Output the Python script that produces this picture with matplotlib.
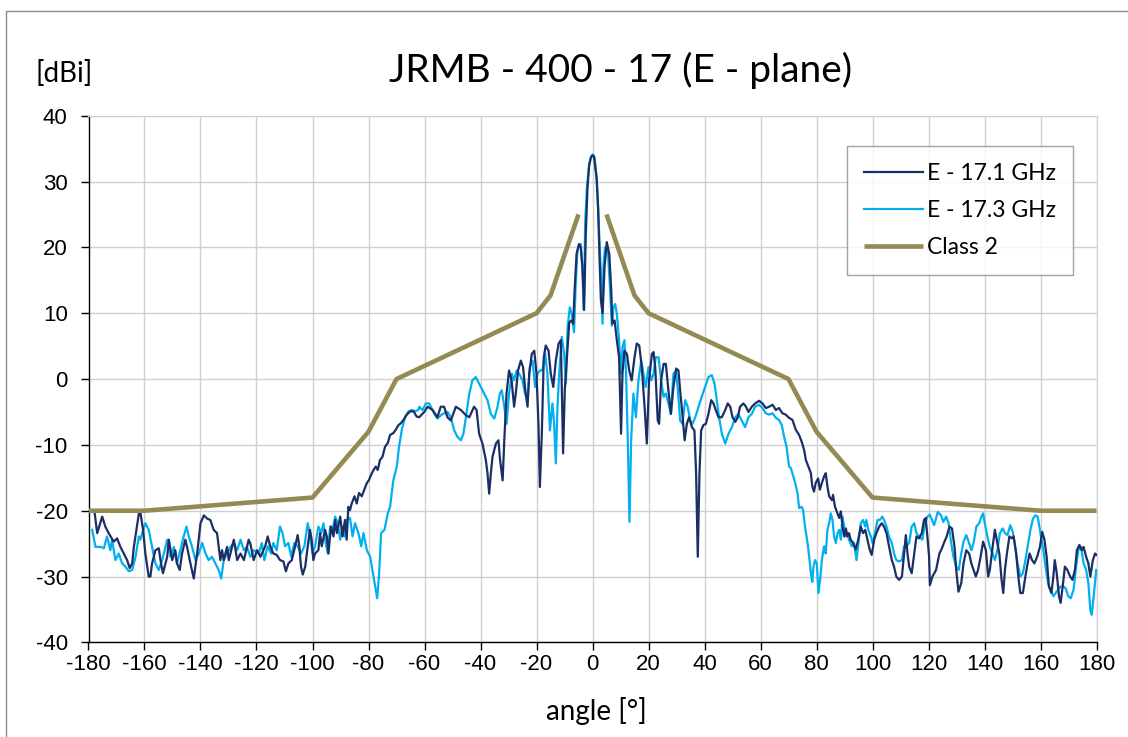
import numpy as np
import matplotlib
matplotlib.use("Agg")
import matplotlib.pyplot as plt
from matplotlib.patches import Rectangle

plt.rcParams["axes.unicode_minus"] = False

# ---------------- data ----------------
angle_171 = [
    -177.9,-176.9,-175.1,-174.0,-172.8,-171.0,-169.8,-168.6,-167.4,-166.2,-165.3,-164.4,-163.8,-162.9,-162.0,-161.5,
    -160.5,-159.7,-158.5,-157.9,-157.3,-156.1,-154.9,-154.1,-153.4,-151.9,-151.3,-150.1,-149.0,-148.4,-147.4,-146.6,
    -145.4,-144.8,-143.6,-142.4,-141.2,-140.0,-138.8,-137.6,-136.5,-135.3,-134.1,-132.9,-132.3,-131.7,-130.5,-129.9,
    -128.1,-126.9,-125.7,-124.5,-122.8,-122.2,-121.0,-119.8,-118.6,
    -116.9,-116.0,-115.1,-114.0,-112.8,-111.6,-110.4,-109.5,-108.6,-107.4,-106.2,-105.3,-104.7,-104.1,-103.5,-102.6,
    -101.7,-100.9,-100.3,-99.7,-99.1,-97.9,-97.3,-96.7,-95.5,-94.9,-94.3,-93.4,-92.5,-91.9,-91.3,-90.1,-89.3,-88.4,
    -87.8,-87.2,-86.6,-86.0,-85.0,-84.2,-83.4,-82.4,-81.5,-80.6,-79.8,-78.8,-78.2,-77.4,-76.7,-75.9,-75.0,-74.1,
    -73.1,-72.3,-71.1,-70.3,-69.3,-68.4,-67.5,-66.3,-65.1,-63.9,-62.8,
    -61.9,-60.1,-58.9,-57.1,-55.4,-54.2,-53.0,-51.8,-50.6,-48.8,-47.0,-45.2,-44.0,-42.3,-41.4,-40.5,-39.3,-38.1,
    -37.5,-36.9,-36.3,-35.7,-34.5,-33.6,-33.0,-32.1,-31.5,-30.7,-29.8,-28.9,-28.0,-27.4,-26.6,-25.6,-24.8,-24.0,
    -23.2,-22.6,-21.7,-20.8,-20.0,-19.3,-18.8,-18.1,-17.4,-16.7,-15.7,-14.9,-14.0,-13.1,-12.1,-11.3,-10.5,-9.9,
    -8.9,-8.3,-7.6,-6.9,-6.4,-5.7,-4.8,-4.2,-3.6,-3.0,-2.4,-1.8,-1.2,-0.6,0.0,
    0.5,1.5,2.0,2.5,3.0,3.6,4.3,5.1,6.0,6.7,7.1,7.9,8.7,9.5,10.2,10.7,11.4,12.3,13.1,14.0,15.0,15.8,16.7,17.6,
    18.6,19.4,20.2,21.2,21.8,22.4,23.3,23.8,24.5,25.4,26.2,27.1,28.0,28.9,29.9,30.7,31.4,32.1,32.9,33.7,34.5,
    35.5,36.4,37.0,37.6,38.2,38.8,39.6,40.5,41.4,42.4,43.2,44.0,45.0,46.2,47.4,48.3,49.2,50.0,51.0,51.9,52.7,
    53.9,54.8,55.7,56.9,58.1,
    59.5,60.7,61.9,63.1,64.3,65.5,66.6,67.8,69.0,70.2,71.4,72.6,73.8,74.7,75.6,76.2,77.1,78.0,78.5,79.1,79.7,
    80.6,81.2,81.9,82.7,83.3,83.9,84.5,85.5,85.9,86.6,87.5,88.1,88.7,89.3,89.9,90.5,91.0,91.6,92.2,93.1,94.0,
    94.9,95.8,96.6,97.4,98.2,99.0,99.7,100.6,101.4,102.4,103.3,104.1,105.0,105.9,106.9,107.7,108.5,109.5,110.5,
    111.3,111.9,112.5,113.1,114.0,114.9,115.7,116.6,117.6,118.4,119.0,119.6,120.2,
    120.5,121.4,122.7,123.9,124.8,125.7,126.5,127.5,128.4,129.3,129.9,130.7,131.7,132.5,133.5,134.5,135.3,136.1,
    136.9,137.7,138.6,139.5,140.5,141.3,141.9,142.9,143.7,144.6,145.3,146.1,146.7,147.3,148.0,148.9,149.8,150.4,
    151.3,152.2,152.8,153.7,154.6,155.4,156.1,157.0,157.8,158.8,159.8,160.6,161.4,162.2,163.0,163.9,164.6,165.1,
    165.8,166.6,167.2,168.2,168.7,169.6,170.6,171.4,172.3,173.0,173.9,174.7,175.4,176.3,177.1,177.8,178.7,179.5,180.0,
]
gain_171 = [
    -20.0,-23.4,-20.9,-22.4,-23.4,-24.7,-24.2,-25.5,-26.5,-27.5,-28.7,-28.0,-25.5,-22.9,-20.4,-20.2,
    -22.9,-26.5,-30.0,-30.0,-28.0,-26.0,-25.7,-28.0,-29.5,-27.0,-24.4,-27.5,-26.0,-28.0,-29.0,-26.5,
    -24.4,-25.5,-28.0,-30.3,-26.5,-21.9,-20.7,-21.2,-21.4,-22.9,-23.4,-27.5,-26.0,-27.5,-25.5,-27.5,
    -24.4,-27.5,-26.5,-27.5,-24.4,-25.0,-27.5,-26.0,-27.0,
    -25.4,-23.9,-25.4,-26.5,-26.7,-27.5,-27.7,-29.2,-28.0,-27.5,-25.4,-23.7,-25.4,-28.5,-29.7,-28.5,
    -25.4,-22.9,-24.4,-27.5,-26.5,-26.0,-23.4,-25.4,-22.9,-23.9,-26.5,-22.4,-23.9,-21.4,-23.4,-20.9,-23.9,-21.4,
    -24.4,-19.4,-19.9,-18.9,-17.8,-18.9,-17.3,-17.8,-16.8,-15.8,-15.3,-14.3,-13.8,-13.3,-13.8,-12.3,-11.8,-10.3,
    -9.7,-8.5,-8.2,-7.7,-7.0,-6.7,-6.2,-5.4,-4.9,-4.9,-5.7,
    -5.8,-5.0,-4.2,-4.7,-5.8,-4.2,-4.2,-5.8,-6.3,-4.2,-4.7,-5.5,-5.8,-4.2,-4.7,-8.3,-9.8,-12.3,
    -14.3,-17.4,-14.3,-11.8,-9.8,-9.3,-12.3,-15.4,-9.3,-2.2,1.3,-0.2,-4.2,-2.2,1.3,2.8,1.8,-1.7,
    -4.2,0.8,3.8,4.3,0.8,-6.8,-16.4,-8.3,3.3,5.1,4.3,0.8,-1.2,2.8,5.4,5.9,-11.3,-1.7,
    4.8,8.6,8.9,8.4,13.4,19.0,20.5,20.0,17.0,10.5,22.0,29.0,32.5,33.6,34.0,
    33.8,30.5,26.0,18.5,12.0,10.0,17.0,20.8,19.0,13.4,8.4,8.9,5.9,3.3,-8.3,0.8,4.3,3.8,1.3,-0.2,3.3,5.4,5.1,1.8,
    -4.2,-9.8,-0.2,3.8,4.1,1.8,-6.3,-6.8,-0.2,2.3,2.3,-1.7,-5.3,-1.2,1.6,1.3,-2.2,-5.3,-9.3,-6.8,-5.8,
    -7.3,-7.8,-14.3,-27.0,-14.3,-7.8,-7.0,-6.8,-5.3,-3.2,-3.7,-4.7,-5.8,-5.8,-4.7,-3.7,-4.2,-5.8,-6.5,-5.8,-4.2,
    -3.7,-4.2,-5.0,-4.2,-3.7,
    -3.3,-3.7,-4.4,-4.2,-3.9,-4.7,-4.4,-5.2,-5.4,-5.9,-6.2,-7.7,-8.5,-9.5,-10.8,-12.3,-13.3,-14.3,-16.3,-17.1,-15.8,
    -15.1,-16.8,-15.8,-14.8,-14.3,-16.3,-17.8,-18.4,-17.6,-19.4,-20.4,-21.1,-20.1,-22.4,-23.9,-22.7,-23.9,-23.4,-24.4,-24.9,-25.9,
    -24.4,-22.4,-23.4,-22.9,-24.4,-25.9,-26.7,-24.4,-23.4,-22.4,-21.9,-22.4,-23.4,-25.4,-27.5,-28.5,-30.0,-30.5,-30.0,
    -26.5,-23.7,-26.5,-28.5,-29.5,-26.5,-23.9,-24.2,-23.4,-21.4,-21.1,-23.9,-26.9,
    -31.3,-30.0,-29.0,-26.5,-25.7,-24.7,-23.9,-22.4,-22.7,-25.5,-29.0,-32.3,-31.0,-28.0,-26.0,-26.5,-28.0,-29.0,
    -30.0,-29.0,-27.0,-24.7,-26.0,-30.0,-29.0,-25.5,-22.9,-24.9,-26.5,-30.5,-32.5,-29.0,-26.5,-23.9,-24.2,-23.9,
    -26.5,-30.5,-32.5,-32.5,-30.0,-28.0,-26.5,-27.5,-28.0,-27.0,-25.5,-23.2,-24.4,-27.0,-31.5,-32.5,-30.0,-27.5,
    -29.5,-33.0,-34.0,-30.5,-28.5,-29.0,-30.0,-30.5,-29.0,-26.0,-25.2,-26.0,-25.5,-27.0,-28.0,-30.0,-27.5,-26.5,-26.7,
]

angle_173 = [
    -178.7,-177.5,-175.7,-174.5,-173.4,-172.2,-171.6,-170.4,-169.2,-168.0,-166.8,-165.6,-164.4,-163.2,-162.0,-161.5,
    -159.7,-158.5,-157.3,-156.1,-154.9,-153.7,-152.5,-151.9,-150.7,-149.5,-148.4,-147.2,-146.0,-145.0,-144.2,-143.0,
    -141.8,-140.6,-139.4,-138.2,-137.1,-135.9,-134.7,-133.5,-132.6,-131.7,-130.5,-129.3,-128.1,-126.9,-125.7,-124.5,
    -123.4,-122.2,-121.0,-119.2,
    -118.1,-117.2,-116.0,-114.8,-114.0,-112.8,-111.6,-110.7,-109.8,-108.6,-107.6,-106.5,-105.3,-104.1,-102.9,-101.7,
    -100.9,-100.0,-99.1,-97.9,-96.9,-96.1,-95.3,-94.5,-93.7,-93.1,-91.9,-91.0,-90.1,-89.3,-88.6,-87.8,-86.6,-85.7,
    -84.8,-83.6,-82.6,-81.8,-80.6,-79.4,-78.2,-76.9,-76.2,-75.5,-74.3,-73.1,-72.3,-71.1,-69.9,-69.1,-68.1,-66.9,
    -65.7,-64.5,-63.4,-62.2,
    -61.9,-60.7,-59.5,-58.3,-56.5,-55.4,-53.6,-51.8,-50.6,-49.4,-48.2,-47.0,-46.1,-45.2,-44.0,-42.9,-41.7,-40.5,
    -38.7,-37.5,-36.3,-35.1,-33.9,-33.1,-32.4,-31.5,-30.7,-29.8,-28.8,-28.0,-27.1,-26.2,-25.0,-24.1,-23.2,-22.4,
    -21.4,-20.5,-19.6,-18.8,-17.9,-16.9,-16.1,-15.2,-14.3,-13.7,-13.1,-12.5,-11.9,-11.0,-10.1,-9.5,-8.9,-8.1,
    -7.4,-6.6,-6.0,-5.4,-4.8,-4.2,-3.6,-3.1,
    -2.6,-2.0,-1.2,-0.5,0.2,0.8,1.5,2.0,2.9,3.6,
    3.9,4.5,5.5,6.3,6.9,7.5,8.1,8.7,9.5,10.1,10.7,11.4,12.0,12.6,13.2,13.8,14.6,15.5,16.4,17.4,18.2,19.0,20.0,
    21.0,21.8,22.6,23.6,24.5,25.4,26.2,27.1,28.0,28.9,29.8,30.5,31.3,32.1,33.1,34.0,34.9,35.7,36.7,37.9,39.0,
    40.2,41.4,42.6,43.6,44.4,45.2,46.2,47.4,48.6,49.8,51.0,52.1,53.3,54.5,55.7,56.9,58.1,
    59.5,60.7,61.9,63.1,64.3,65.5,66.6,67.6,68.4,69.3,70.2,70.8,71.4,72.4,73.2,73.8,74.7,75.2,75.9,76.8,77.4,
    78.0,78.5,78.9,79.5,80.1,80.7,81.3,81.9,82.7,83.3,83.9,84.5,85.1,85.7,86.3,86.9,87.5,88.1,88.7,89.3,89.9,
    90.5,91.0,91.6,92.6,93.4,94.3,95.0,95.8,96.6,97.4,97.8,98.5,99.4,100.0,100.9,101.8,102.6,103.5,104.1,105.0,
    105.9,106.9,107.7,108.5,109.5,110.5,111.3,112.1,113.1,114.0,114.9,115.7,116.6,117.8,118.8,119.6,120.5,
    122.0,123.3,124.5,125.3,126.3,127.2,128.1,128.9,129.9,130.8,131.7,132.5,133.5,134.5,135.3,136.1,137.1,138.1,
    138.9,139.5,140.1,141.0,141.9,142.9,143.7,144.6,145.5,146.5,147.3,148.2,149.2,150.1,151.0,151.8,152.8,153.7,
    154.6,155.4,156.4,157.3,158.2,159.0,160.0,161.0,161.8,162.7,163.6,164.6,165.4,166.3,167.2,168.2,169.0,169.9,
    170.8,171.8,172.7,173.5,174.5,175.4,176.3,177.1,177.8,178.3,179.0,179.9,
]
gain_173 = [
    -22.9,-25.5,-25.5,-25.7,-23.9,-26.0,-24.4,-27.5,-26.5,-28.0,-28.5,-29.2,-29.0,-27.0,-23.9,-24.4,
    -21.9,-22.9,-25.5,-28.0,-29.0,-27.5,-25.5,-24.4,-27.0,-25.5,-28.0,-26.0,-23.9,-22.4,-23.9,-25.5,
    -27.5,-26.5,-24.9,-26.5,-27.5,-27.0,-28.0,-29.0,-30.3,-27.5,-26.5,-25.5,-24.9,-26.0,-24.4,-26.0,
    -25.5,-27.0,-26.0,-26.5,
    -24.9,-27.5,-25.4,-26.5,-24.9,-26.0,-22.4,-23.4,-25.4,-24.9,-27.0,-24.9,-25.4,-26.5,-25.4,-21.9,
    -23.9,-26.5,-25.4,-22.4,-23.4,-21.9,-24.9,-26.5,-22.4,-23.4,-20.9,-21.9,-24.4,-22.4,-23.9,-21.4,-21.1,-23.9,
    -21.9,-23.4,-25.4,-23.4,-26.0,-27.0,-30.0,-33.3,-29.5,-23.4,-22.9,-20.4,-19.4,-15.3,-13.3,-10.3,-7.7,-5.7,
    -4.9,-4.7,-4.9,-4.7,
    -4.2,-4.7,-3.7,-3.7,-5.3,-6.0,-5.3,-5.0,-5.8,-7.8,-8.8,-9.3,-8.3,-5.8,-2.2,-0.2,0.3,-0.7,
    -2.2,-3.2,-5.3,-6.0,-4.2,-2.2,-1.7,-4.2,-6.8,-2.2,0.8,-0.2,1.3,0.8,-0.2,-2.2,-3.2,1.8,
    2.8,-1.2,0.8,1.3,1.3,3.8,0.8,-7.8,-3.7,-6.8,-12.8,-4.2,0.8,6.4,3.8,-0.7,7.9,10.9,
    9.9,7.1,14.4,19.5,20.5,20.5,17.0,10.5,
    24.0,29.0,32.5,33.8,34.1,33.6,30.1,26.0,17.0,8.4,
    17.0,20.0,19.5,13.4,8.1,10.9,11.4,9.9,5.9,0.8,4.8,5.9,0.8,-9.3,-21.7,-9.3,-2.2,-5.8,-0.2,2.8,0.8,-1.2,1.8,
    -0.2,0.8,3.3,3.3,-0.2,-2.7,-2.2,-3.7,-5.3,0.8,1.3,-1.7,-6.3,-6.8,-3.2,-4.2,-6.3,-6.8,-5.8,-4.2,-2.7,
    -1.2,0.3,0.6,-0.7,-3.2,-5.8,-8.3,-9.8,-8.3,-7.3,-5.8,-5.3,-6.3,-7.3,-5.8,-5.3,-4.2,
    -3.9,-4.4,-5.2,-5.4,-5.2,-5.9,-6.2,-7.0,-8.7,-10.3,-13.3,-13.5,-14.3,-15.8,-17.3,-19.6,-19.4,-19.9,-22.4,-24.9,-27.0,
    -29.5,-30.8,-28.5,-27.5,-28.0,-32.5,-30.5,-27.5,-25.4,-26.5,-22.9,-21.9,-20.4,-21.4,-23.9,-24.9,-23.4,-22.9,-24.4,-20.9,-22.4,
    -23.9,-23.4,-24.4,-25.4,-24.9,-27.5,-24.9,-21.9,-21.4,-22.4,-21.4,-22.9,-23.9,-24.9,-23.4,-21.4,-21.4,-20.9,-21.4,-22.4,
    -23.9,-24.9,-26.5,-27.5,-27.7,-27.5,-25.4,-25.4,-24.9,-22.4,-21.9,-23.4,-23.9,-24.4,-21.9,-20.9,-20.6,
    -22.2,-20.2,-20.7,-21.7,-20.9,-21.9,-24.9,-27.0,-28.5,-29.0,-26.5,-24.7,-23.7,-24.9,-26.0,-24.9,-22.4,-21.9,
    -20.9,-20.4,-21.9,-23.9,-25.5,-26.5,-27.5,-26.0,-23.4,-22.7,-23.4,-23.7,-22.2,-23.2,-25.5,-28.0,-30.0,-29.5,
    -27.5,-25.5,-22.9,-21.2,-20.7,-20.9,-23.4,-26.0,-28.5,-31.0,-32.0,-33.0,-32.5,-32.0,-31.5,-31.5,-31.8,-33.0,
    -33.3,-32.0,-28.5,-26.0,-25.5,-28.0,-29.0,-31.0,-35.1,-35.8,-33.0,-29.0,
]

angle_class2 = [-180, -160, -100, -80, -70, -20, -15, -5, np.nan, 5, 15, 20, 70, 80, 100, 160, 180]
gain_class2 = [-20, -20, -18, -8, 0, 10, 12.7, 25, np.nan, 25, 12.7, 10, 0, -8, -18, -20, -20]

labels = ["E - 17.1 GHz", "E - 17.3 GHz", "Class 2"]
x_ticks = list(range(-180, 181, 20))
y_ticks = list(range(-40, 41, 10))

# ---------------- figure ----------------
W, H = 1128, 737
fig = plt.figure(figsize=(W / 100, H / 100), dpi=100)
fig.patch.set_facecolor("white")

# outer chart border
fig.patches.append(Rectangle((6 / W, -0.05), 1.2, 1 - 11 / H + 0.05, transform=fig.transFigure,
                             fill=False, edgecolor="#8c8c8c", linewidth=1.0, zorder=0))

L, R, T, B = 88.5, 1096.5, 115.7, 642.4
ax = fig.add_axes([L / W, 1 - B / H, (R - L) / W, (B - T) / H])

c_dark = "#1B2F66"
c_light = "#00B0F0"
c_class = "#948A54"

ax.plot(angle_171, gain_171, color=c_dark, lw=1.6, label=labels[0], zorder=4)
ax.plot(angle_173, gain_173, color=c_light, lw=1.6, label=labels[1], zorder=3)
ax.plot(angle_class2, gain_class2, color=c_class, lw=3.3, label=labels[2], zorder=5,
        solid_capstyle="butt")

ax.set_xlim(-180, 180)
ax.set_ylim(-40, 40)
ax.set_xticks(x_ticks)
ax.set_yticks(y_ticks)
ax.grid(True, color="#D0D0D0", linewidth=1.0)
ax.set_axisbelow(True)

for s in ["top", "right"]:
    ax.spines[s].set_color("#D0D0D0")
for s in ["left", "bottom"]:
    ax.spines[s].set_color("#000000")
    ax.spines[s].set_linewidth(1.0)

ax.tick_params(axis="both", direction="out", length=5.5, width=1.0, color="#000000",
               labelsize=16)
ax.tick_params(axis="y", pad=9.5)
ax.tick_params(axis="x", pad=2.5)
for lab in ax.get_xticklabels() + ax.get_yticklabels():
    lab.set_family(["Liberation Sans", "DejaVu Sans"])

fig.text(621 / W, 1 - 70 / H, "JRMB - 400 - 17 (E - plane)", ha="center", va="center",
         fontsize=28, family=["Lato", "DejaVu Sans"])
fig.text(35 / W, 1 - 74 / H, "[dBi]", ha="left", va="center",
         fontsize=20, family=["Lato", "DejaVu Sans"])
fig.text(596 / W, 1 - 711 / H, "angle [°]", ha="center", va="center",
         fontsize=20, family=["Lato", "DejaVu Sans"])

leg = ax.legend(loc="upper right", bbox_to_anchor=(1073 / W, 1 - 146 / H),
                bbox_transform=fig.transFigure, frameon=True, fancybox=False,
                prop={"family": ["Lato", "DejaVu Sans"], "size": 16.5},
                handlelength=2.6, handletextpad=0.15, labelspacing=0.7,
                borderpad=0.75, borderaxespad=0)
leg.get_frame().set_edgecolor("#8c8c8c")
leg.get_frame().set_linewidth(1.0)
leg.set_zorder(10)

fig.savefig("out.png", dpi=100, facecolor="white")
